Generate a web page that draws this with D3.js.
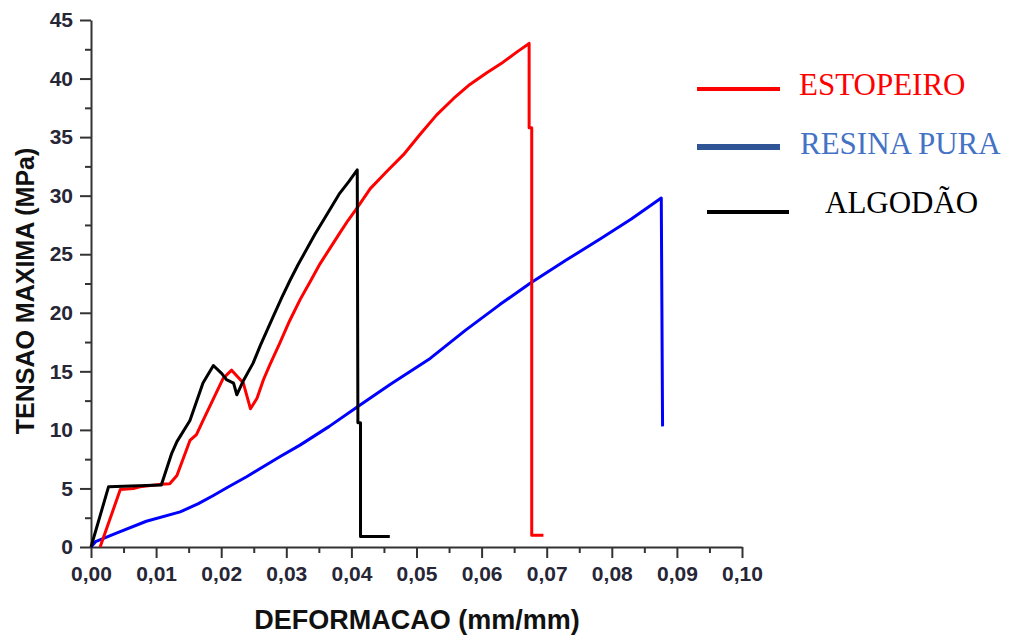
<!DOCTYPE html>
<html>
<head>
<meta charset="utf-8">
<script src="https://cdn.jsdelivr.net/npm/d3@7"></script>
<style>
  body { margin: 0; background: #fff; }
  svg { display: block; }
  .tick text { font-family: "Liberation Sans", Arial, sans-serif; font-weight: bold; font-size: 21px; fill: #262636; }
  .axis path, .axis line { stroke: #333; stroke-width: 2; }
</style>
</head>
<body>
<div id="chart"></div>
<script>
// series: [deformacao, tensao]
var estopeiro = [[0.0014,0],[0.0045,4.9],[0.0065,5.0],[0.0075,5.15],[0.0108,5.35],[0.0121,5.4],[0.0132,6.1],
  [0.0152,9.1],[0.0162,9.6],[0.0172,10.8],[0.0203,14.4],[0.0216,15.1],[0.0234,14.0],[0.0245,11.8],[0.0255,12.7],
  [0.0265,14.3],[0.0275,15.6],[0.029,17.4],[0.0305,19.3],[0.0321,21.1],[0.0337,22.7],[0.0352,24.2],[0.0367,25.5],
  [0.0382,26.8],[0.0395,27.9],[0.0408,28.9],[0.0429,30.6],[0.0455,32.1],[0.048,33.5],[0.0505,35.2],[0.0531,36.9],
  [0.0557,38.3],[0.0582,39.5],[0.0608,40.5],[0.0633,41.4],[0.0655,42.3],[0.0673,43.0],
  [0.0673,35.8],[0.0677,35.8],[0.0677,1.0],[0.0695,1.0]];
var resinaPura = [[0,0],[0.0007,0.45],[0.004,1.2],[0.0085,2.2],[0.0137,3.0],[0.0165,3.7],[0.0188,4.4],[0.021,5.1],
  [0.0239,6.0],[0.029,7.7],[0.0321,8.7],[0.0366,10.3],[0.041,12.0],[0.046,13.9],[0.0521,16.1],[0.0575,18.5],
  [0.0628,20.7],[0.0674,22.5],[0.073,24.5],[0.0782,26.3],[0.083,28.0],[0.0876,29.8],[0.0878,10.3]];
var algodao = [[0,0],[0.0027,5.15],[0.0108,5.3],[0.0124,8.0],[0.0132,9.0],[0.0152,10.8],[0.0172,14.0],[0.0188,15.5],
  [0.0201,14.8],[0.0208,14.3],[0.0219,14.0],[0.0224,13.0],[0.0234,14.2],[0.0249,15.7],[0.026,17.2],[0.028,19.7],
  [0.0293,21.3],[0.0306,22.8],[0.0318,24.1],[0.0331,25.4],[0.0344,26.7],[0.0357,27.9],[0.037,29.1],[0.0382,30.2],
  [0.0396,31.2],[0.0409,32.2],[0.041,10.6],[0.0414,10.6],[0.0414,0.9],[0.0459,0.9]];

var xTicks = [0,0.01,0.02,0.03,0.04,0.05,0.06,0.07,0.08,0.09,0.10];
var xMinor = [0.005,0.015,0.025,0.035,0.045,0.055,0.065,0.075,0.085,0.095];
var yTicks = [0,5,10,15,20,25,30,35,40,45];
var yMinor = [2.5,7.5,12.5,17.5,22.5,27.5,32.5,37.5,42.5];

var legendNames = ["ESTOPEIRO","RESINA PURA","ALGODÃO"];

var width = 1023, height = 637;

var svg = d3.select("#chart").append("svg")
  .attr("width", width)
  .attr("height", height);

svg.append("rect").attr("width", width).attr("height", height).attr("fill", "#fff");

var x = d3.scaleLinear().domain([0, 0.1]).range([91, 742]);
var y = d3.scaleLinear().domain([0, 45]).range([547, 20]);

var fmt = function(d){ return d3.format(".2f")(d).replace(".", ","); };

// minor ticks first
svg.append("g").attr("class", "axis")
  .attr("transform", "translate(0,547)")
  .call(d3.axisBottom(x).tickValues(xMinor).tickSize(6).tickFormat(""))
  .select(".domain").remove();
svg.append("g").attr("class", "axis")
  .attr("transform", "translate(91,0)")
  .call(d3.axisLeft(y).tickValues(yMinor).tickSize(6).tickFormat(""))
  .select(".domain").remove();

svg.append("g").attr("class", "axis")
  .attr("transform", "translate(0,547)")
  .call(d3.axisBottom(x).tickValues(xTicks).tickSize(11).tickSizeOuter(0).tickPadding(8).tickFormat(fmt));
svg.append("g").attr("class", "axis")
  .attr("transform", "translate(91,0)")
  .call(d3.axisLeft(y).tickValues(yTicks).tickSize(11).tickSizeOuter(0).tickPadding(7).tickFormat(d3.format("d")));

//axis titles
svg.append("text")
  .attr("transform", "translate(34,291) rotate(-90)")
  .attr("text-anchor", "middle")
  .style("font-family", "'Liberation Sans', Arial, sans-serif")
  .style("font-weight", "bold")
  .style("font-size", "25px")
  .attr("fill", "#111")
  .text("TENSAO MAXIMA (MPa)");

svg.append("text")
  .attr("x", 417)
  .attr("y", 629)
  .attr("text-anchor", "middle")
  .style("font-family", "'Liberation Sans', Arial, sans-serif")
  .style("font-weight", "bold")
  .style("font-size", "27px")
  .attr("fill", "#111")
  .text("DEFORMACAO (mm/mm)");

var line = d3.line()
  .x(function(d){ return x(d[0]); })
  .y(function(d){ return y(d[1]); });

var series = [
  {data: resinaPura, color: "#0000ff"},
  {data: estopeiro, color: "#ff0000"},
  {data: algodao, color: "#000000"}
];

svg.selectAll("path.serie")
  .data(series)
  .enter()
  .append("path")
  .attr("class", "serie")
  .attr("d", function(d){ return line(d.data); })
  .attr("fill", "none")
  .attr("stroke", function(d){ return d.color; })
  .attr("stroke-width", 3)
  .attr("stroke-linejoin", "round");

// legend
var legendItems = [
  {name: legendNames[0], line: "#ff0000", text: "#ff0000", x1: 697, x2: 780, ly: 89, w: 4, tx: 799, ty: 95},
  {name: legendNames[1], line: "#2f5597", text: "#4472c4", x1: 697, x2: 780, ly: 147, w: 6, tx: 800, ty: 154},
  {name: legendNames[2], line: "#000000", text: "#000000", x1: 707, x2: 789, ly: 212, w: 4, tx: 825, ty: 213}
];

var legend = svg.append("g").attr("class", "legend");
legend.selectAll("line")
  .data(legendItems)
  .enter()
  .append("line")
  .attr("x1", function(d){ return d.x1; })
  .attr("x2", function(d){ return d.x2; })
  .attr("y1", function(d){ return d.ly; })
  .attr("y2", function(d){ return d.ly; })
  .attr("stroke", function(d){ return d.line; })
  .attr("stroke-width", function(d){ return d.w; });
legend.selectAll("text")
  .data(legendItems)
  .enter()
  .append("text")
  .attr("x", function(d){ return d.tx; })
  .attr("y", function(d){ return d.ty; })
  .style("font-family", "'Liberation Serif', 'Times New Roman', serif")
  .style("font-size", "31px")
  .attr("fill", function(d){ return d.text; })
  .text(function(d){ return d.name; });
</script>
</body>
</html>
